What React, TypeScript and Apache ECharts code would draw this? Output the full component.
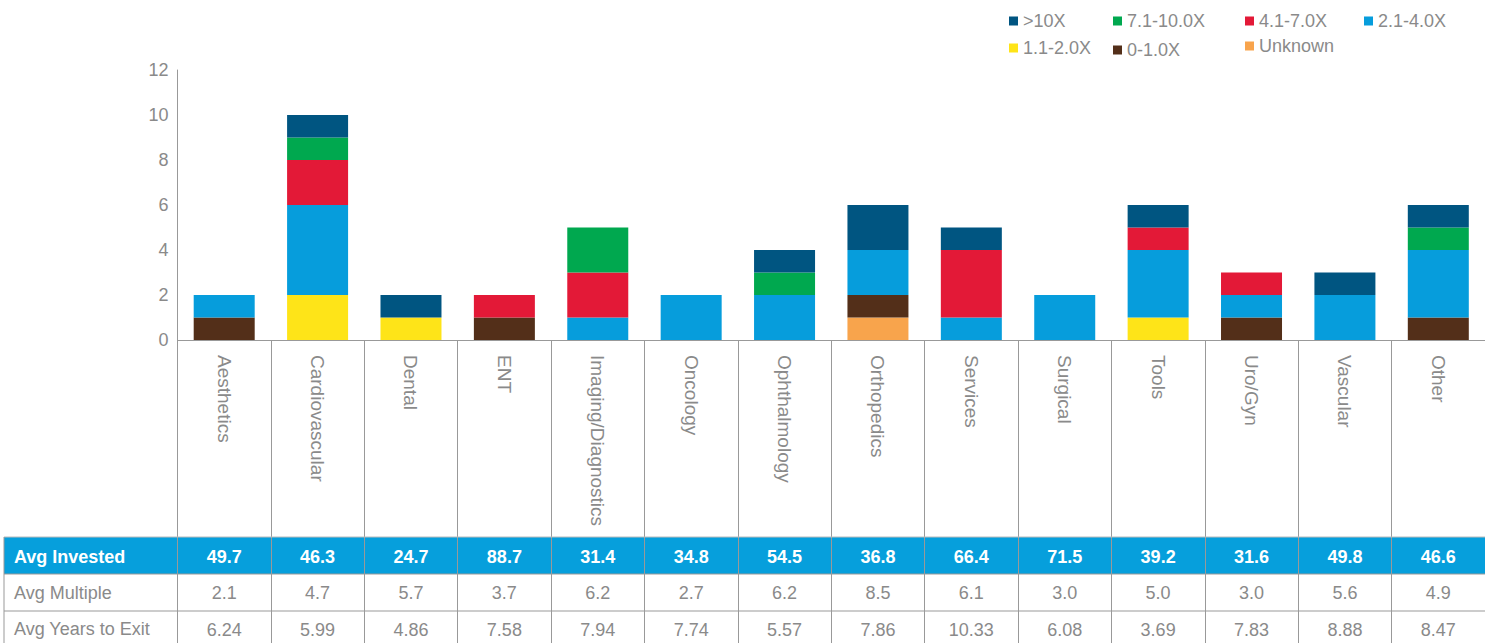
import React, { useEffect, useRef } from "react";
import * as echarts from "echarts";

const categories = [
  "Aesthetics", "Cardiovascular", "Dental", "ENT", "Imaging/Diagnostics", "Oncology",
  "Ophthalmology", "Orthopedics", "Services", "Surgical", "Tools", "Uro/Gyn", "Vascular", "Other",
];

const seriesNames = ["Unknown", "0-1.0X", "1.1-2.0X", "2.1-4.0X", "4.1-7.0X", "7.1-10.0X", ">10X"];
const seriesColors = ["#f8a44c", "#532f19", "#fee418", "#069ddc", "#e31937", "#00a84f", "#005581"];

const unknown = [0, 0, 0, 0, 0, 0, 0, 1, 0, 0, 0, 0, 0, 0];
const x0to1 = [1, 0, 0, 1, 0, 0, 0, 1, 0, 0, 0, 1, 0, 1];
const x1to2 = [0, 2, 1, 0, 0, 0, 0, 0, 0, 0, 1, 0, 0, 0];
const x2to4 = [1, 4, 0, 0, 1, 2, 2, 2, 1, 2, 3, 1, 2, 3];
const x4to7 = [0, 2, 0, 1, 2, 0, 0, 0, 3, 0, 1, 1, 0, 0];
const x7to10 = [0, 1, 0, 0, 2, 0, 1, 0, 0, 0, 0, 0, 0, 1];
const x10plus = [0, 1, 1, 0, 0, 0, 1, 2, 1, 0, 1, 0, 1, 1];
const seriesData = [unknown, x0to1, x1to2, x2to4, x4to7, x7to10, x10plus];

const avgInvested = ["49.7", "46.3", "24.7", "88.7", "31.4", "34.8", "54.5", "36.8", "66.4", "71.5", "39.2", "31.6", "49.8", "46.6"];
const avgMultiple = ["2.1", "4.7", "5.7", "3.7", "6.2", "2.7", "6.2", "8.5", "6.1", "3.0", "5.0", "3.0", "5.6", "4.9"];
const avgYears = ["6.24", "5.99", "4.86", "7.58", "7.94", "7.74", "5.57", "7.86", "10.33", "6.08", "3.69", "7.83", "8.88", "8.47"];
const rowLabels = ["Avg Invested", "Avg Multiple", "Avg Years to Exit"];

const yTicks = { min: 0, max: 12, interval: 2 };

const FONT = "Liberation Sans, Arial, sans-serif";
const GREY = "#8a8a8a";
const LINE = "#999999";

const legendPos: Record<string, [number, number]> = {
  ">10X": [1009, 12],
  "7.1-10.0X": [1113, 12],
  "4.1-7.0X": [1245, 12],
  "2.1-4.0X": [1364, 12],
  "1.1-2.0X": [1009, 39],
  "0-1.0X": [1113, 41],
  "Unknown": [1245, 37],
};

export default function App() {
  const ref = useRef<HTMLDivElement>(null);
  useEffect(() => {
    document.body.style.margin = "0";
    const chart = echarts.init(ref.current!, null, { renderer: "svg" });
    const tableAxis = (data: string[], offset: number, color: string, bold: boolean) => ({
      type: "category",
      data,
      gridIndex: 0,
      position: "bottom",
      offset,
      axisLine: { show: false },
      axisTick: { show: false },
      splitLine: { show: false },
      axisLabel: {
        interval: 0,
        margin: 0,
        color,
        fontSize: 18,
        fontFamily: FONT,
        fontWeight: bold ? "bold" : "normal",
        verticalAlign: "middle",
      },
    });
    chart.setOption({
      animation: false,
      textStyle: { fontFamily: FONT },
      grid: { left: 177.5, top: 70, bottom: 303, width: 1314.6, containLabel: false },
      legend: seriesNames
        .slice()
        .reverse()
        .map((name) => ({
          data: [name],
          left: legendPos[name][0],
          top: legendPos[name][1],
          padding: 0,
          icon: "rect",
          itemWidth: 9,
          itemHeight: 9,
          itemGap: 5,
          selectedMode: false,
          textStyle: { color: GREY, fontSize: 18, fontFamily: FONT, padding: [0, 0, 0, 0] },
        })),
      xAxis: [
        {
          type: "category",
          data: categories,
          axisLine: { lineStyle: { color: LINE, width: 1 } },
          axisTick: { show: true, length: 303, alignWithLabel: false, interval: 0, lineStyle: { color: LINE, width: 1 } },
          axisLabel: { interval: 0, rotate: -90, margin: 15, color: GREY, fontSize: 19, fontFamily: FONT },
        },
        tableAxis(avgInvested, 217, "#ffffff", true),
        tableAxis(avgMultiple, 253, GREY, false),
        tableAxis(avgYears, 290, GREY, false),
      ],
      yAxis: {
        type: "value",
        min: yTicks.min,
        max: yTicks.max,
        interval: yTicks.interval,
        axisLine: { show: true, lineStyle: { color: LINE, width: 1 } },
        axisTick: { show: false },
        splitLine: { show: false },
        axisLabel: { color: GREY, fontSize: 18, fontFamily: FONT, margin: 9 },
      },
      series: seriesNames.map((name, i) => ({
        name,
        type: "bar",
        stack: "total",
        barWidth: 61,
        xAxisIndex: 0,
        itemStyle: { color: seriesColors[i] },
        data: seriesData[i],
      })),
      graphic: [
        { type: "rect", z: -10, shape: { x: 4, y: 537, width: 1490, height: 37 }, style: { fill: "#069fdc" } },
        { type: "line", z: 10, shape: { x1: 4, y1: 537, x2: 1490, y2: 537 }, style: { stroke: "#bbbbbb", lineWidth: 1 } },
        { type: "line", z: 10, shape: { x1: 4, y1: 574, x2: 1490, y2: 574 }, style: { stroke: LINE, lineWidth: 1 } },
        { type: "line", z: 10, shape: { x1: 4, y1: 611, x2: 1490, y2: 611 }, style: { stroke: LINE, lineWidth: 1 } },
        { type: "line", z: 10, shape: { x1: 4, y1: 537, x2: 4, y2: 643 }, style: { stroke: LINE, lineWidth: 1 } },
        {
          type: "text", z: 10, x: 14, y: 557,
          style: { text: rowLabels[0], fill: "#ffffff", font: `bold 18px ${FONT}`, verticalAlign: "middle" },
        },
        {
          type: "text", z: 10, x: 14, y: 593,
          style: { text: rowLabels[1], fill: GREY, font: `18px ${FONT}`, verticalAlign: "middle" },
        },
        {
          type: "text", z: 10, x: 14, y: 629,
          style: { text: rowLabels[2], fill: GREY, font: `18px ${FONT}`, verticalAlign: "middle" },
        },
      ],
    });
    return () => chart.dispose();
  }, []);
  return <div ref={ref} style={{ width: 1485, height: 643 }} />;
}
